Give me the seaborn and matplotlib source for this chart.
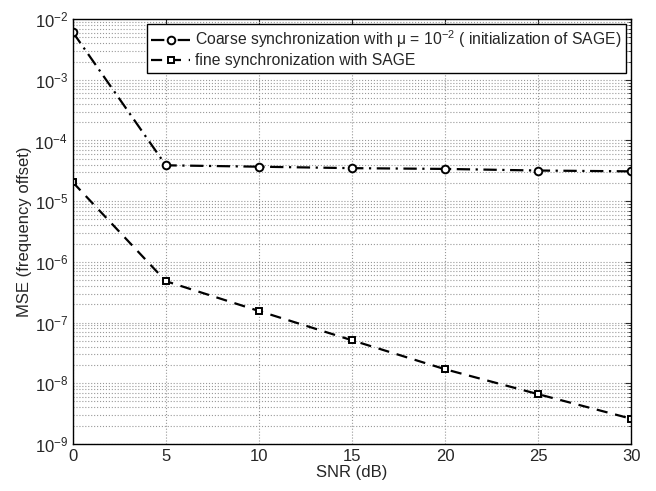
import numpy as np
import pandas as pd
import matplotlib
matplotlib.use("Agg")
import matplotlib.pyplot as plt
import seaborn as sns

sns.set_style("white")
plt.rcParams['font.family'] = ['Liberation Sans', 'DejaVu Sans']
plt.rcParams['mathtext.fontset'] = 'custom'
plt.rcParams['mathtext.rm'] = 'Liberation Sans'
plt.rcParams['mathtext.it'] = 'Liberation Sans'

# datos
snr = [0, 5, 10, 15, 20, 25, 30]
mse_coarse = [6.1e-3, 3.9e-5, 3.7e-5, 3.5e-5, 3.4e-5, 3.2e-5, 3.1e-5]
mse_fine = [2.05e-5, 4.8e-7, 1.55e-7, 5.1e-8, 1.7e-8, 6.6e-9, 2.6e-9]

lbl_coarse = "Coarse synchronization with \u03bc = 10$^{-2}$ ( initialization of SAGE)"
lbl_fine = "fine synchronization with SAGE"

df = pd.DataFrame({
    "SNR": snr * 2,
    "MSE": mse_coarse + mse_fine,
    "serie": [lbl_coarse] * len(snr) + [lbl_fine] * len(snr),
})

fig = plt.figure(figsize=(6.56, 4.91), dpi=100)
ax = fig.add_axes([0.111, 0.096, 0.851, 0.865])

estilos = {lbl_coarse: ((0, (6, 2.5, 1, 2.5)), 'o', 5.5), lbl_fine: ((0, (5, 3.5)), 's', 4.5)}
for nombre, sub in df.groupby("serie", sort=False):
    ls, mk, ms = estilos[nombre]
    sns.lineplot(data=sub, x="SNR", y="MSE", ax=ax, color='black', linestyle=ls,
                 marker=mk, markersize=ms, markerfacecolor='white', markeredgecolor='black',
                 markeredgewidth=1.4, linewidth=1.6, label=nombre)

ax.set_yscale('log')
ax.set_xlim(0, 30)
ax.set_ylim(1e-9, 1e-2)
ax.set_xticks([0, 5, 10, 15, 20, 25, 30])
ax.set_yticks([10.0 ** k for k in range(-9, -1)])
ax.grid(True, which='major', axis='both', linestyle=':', color='#999999', linewidth=0.8)
ax.grid(True, which='minor', axis='y', linestyle=':', color='#999999', linewidth=0.8)
ax.tick_params(which='both', direction='in', top=True, right=True, labelsize=12)
ax.tick_params(which='major', length=4)
ax.tick_params(which='minor', length=2)
for s in ax.spines.values():
    s.set_color('black')
    s.set_linewidth(1.0)

ax.set_xlabel("SNR (dB)", fontsize=12, labelpad=1)
ax.set_ylabel("MSE (frequency offset)", fontsize=12, labelpad=2)

leg = ax.legend(loc='upper right', fontsize=11.3, frameon=True, fancybox=False,
                edgecolor='black', framealpha=1, borderaxespad=0.3,
                handlelength=2.5, borderpad=0.3, labelspacing=0.2, handletextpad=0.3)
leg.get_frame().set_linewidth(1.0)

fig.savefig("out.png", dpi=100)
